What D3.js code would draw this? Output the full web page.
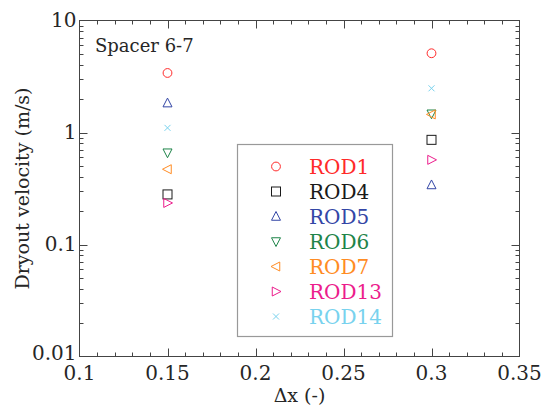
<!DOCTYPE html>
<html>
<head>
<meta charset="utf-8">
<script src="https://cdn.jsdelivr.net/npm/d3@7"></script>
<style>
  html, body { margin: 0; padding: 0; background: #fff; }
</style>
</head>
<body>
<svg id="chart" width="543" height="409"></svg>
<script>
// Spacer positions (Δx) and dryout velocities per rod
const dx = [0.15, 0.3];
const rods = ["ROD1", "ROD4", "ROD5", "ROD6", "ROD7", "ROD13", "ROD14"];
const rod1  = [3.4, 5.1];
const rod4  = [0.28, 0.86];
const rod5  = [1.83, 0.34];
const rod6  = [0.66, 1.47];
const rod7  = [0.47, 1.45];
const rod13 = [0.235, 0.57];
const rod14 = [1.1, 2.48];
const xTicks = [0.1, 0.15, 0.2, 0.25, 0.3, 0.35];
const yTicks = [0.01, 0.1, 1, 10];

const values = [rod1, rod4, rod5, rod6, rod7, rod13, rod14];
const colors = ["#ff2a2a", "#1a1a1a", "#3346a6", "#1e8449", "#ff8c24", "#ec1c8c", "#78d2ee"];
const shapes = ["circle", "square", "up", "down", "left", "right", "cross"];

const FONT = "'DejaVu Serif', 'Liberation Serif', 'Noto Serif', 'Times New Roman', serif";

const svg = d3.select("#chart").attr("font-family", FONT);
const m = { left: 79.5, right: 519.5, top: 20.5, bottom: 356.5 };

const x = d3.scaleLinear().domain([0.1, 0.35]).range([m.left, m.right]);
const y = d3.scaleLog().domain([0.01, 10]).range([m.bottom, m.top]);

const axisColor = "#444";
const textColor = "#262626";

// frame
svg.append("rect")
  .attr("x", m.left).attr("y", m.top)
  .attr("width", m.right - m.left).attr("height", m.bottom - m.top)
  .attr("fill", "none").attr("stroke", axisColor).attr("stroke-width", 1);

// inward ticks on all four sides
const xMinor = d3.range(0.11, 0.35, 0.01).map(v => +v.toFixed(2)).filter(v => !xTicks.some(t => Math.abs(t - v) < 1e-9));
const yMinor = [];
[0.01, 0.1, 1].forEach(d => { for (let k = 2; k <= 9; k++) yMinor.push(d * k); });

const tickG = svg.append("g").attr("stroke", axisColor).attr("stroke-width", 1);
function xTickMarks(vals, len) {
  vals.forEach(v => {
    const px = Math.round(x(v)) + 0.5;
    tickG.append("line").attr("x1", px).attr("x2", px).attr("y1", m.bottom).attr("y2", m.bottom - len);
    tickG.append("line").attr("x1", px).attr("x2", px).attr("y1", m.top).attr("y2", m.top + len);
  });
}
function yTickMarks(vals, len) {
  vals.forEach(v => {
    const py = Math.round(y(v)) + 0.5;
    tickG.append("line").attr("x1", m.left).attr("x2", m.left + len).attr("y1", py).attr("y2", py);
    tickG.append("line").attr("x1", m.right).attr("x2", m.right - len).attr("y1", py).attr("y2", py);
  });
}
xTickMarks(xTicks.slice(1, -1), 8);
xTickMarks(xMinor, 4);
yTickMarks(yTicks.slice(1, -1), 8);
yTickMarks(yMinor, 4);

// tick labels
svg.append("g").selectAll("text").data(xTicks).join("text")
  .attr("x", d => x(d)).attr("y", m.bottom + 23)
  .attr("text-anchor", "middle").attr("font-size", 20).attr("fill", textColor)
  .text(d => String(d));
svg.append("g").selectAll("text").data(yTicks).join("text")
  .attr("x", m.left - 3).attr("y", d => y(d) + (d === 0.01 ? 3 : 6))
  .attr("text-anchor", "end").attr("font-size", 20).attr("fill", textColor)
  .text(d => String(d));

// axis titles
svg.append("text")
  .attr("x", (m.left + m.right) / 2).attr("y", 402)
  .attr("text-anchor", "middle").attr("font-size", 19).attr("fill", textColor)
  .text("Δx (-)");
svg.append("text")
  .attr("transform", `translate(29,${(m.top + m.bottom) / 2}) rotate(-90)`)
  .attr("text-anchor", "middle").attr("font-size", 19).attr("fill", textColor)
  .text("Dryout velocity (m/s)");

// panel label
svg.append("text")
  .attr("x", 95).attr("y", 52)
  .attr("font-size", 18).attr("fill", textColor)
  .text("Spacer 6-7");

// marker drawing
function marker(g, shape, cx, cy, color) {
  const s = 5;
  let el;
  if (shape === "circle") {
    el = g.append("circle").attr("cx", cx).attr("cy", cy).attr("r", 4.4);
  } else if (shape === "square") {
    el = g.append("rect").attr("x", cx - 4.5).attr("y", cy - 4.5).attr("width", 9).attr("height", 9);
  } else if (shape === "cross") {
    el = g.append("path").attr("d", `M${cx-3},${cy-3}L${cx+3},${cy+3}M${cx-3},${cy+3}L${cx+3},${cy-3}`);
  } else {
    const tri = {
      up:    [[0, -s], [-s * 0.9, s * 0.75], [s * 0.9, s * 0.75]],
      down:  [[0, s], [-s * 0.9, -s * 0.75], [s * 0.9, -s * 0.75]],
      left:  [[-s, 0], [s * 0.75, -s * 0.9], [s * 0.75, s * 0.9]],
      right: [[s, 0], [-s * 0.75, -s * 0.9], [-s * 0.75, s * 0.9]]
    }[shape];
    el = g.append("path").attr("d", "M" + tri.map(p => [cx + p[0], cy + p[1]].join(",")).join("L") + "Z");
  }
  el.attr("fill", "none").attr("stroke", color).attr("stroke-width", 1);
}

// data points
const pts = svg.append("g");
values.forEach((vals, i) => {
  vals.forEach((v, j) => marker(pts, shapes[i], x(dx[j]), y(v), colors[i]));
});

// legend
const lg = svg.append("g");
lg.append("rect")
  .attr("x", 237.5).attr("y", 144.5).attr("width", 155).attr("height", 192)
  .attr("fill", "#fff").attr("stroke", "#999").attr("stroke-width", 1.2);
rods.forEach((r, i) => {
  const cy = 166.5 + i * 25;
  marker(lg, shapes[i], 276, cy, colors[i]);
  lg.append("text")
    .attr("x", 309).attr("y", cy + 7)
    .attr("font-size", 20).attr("fill", colors[i])
    .text(r);
});
</script>
</body>
</html>
